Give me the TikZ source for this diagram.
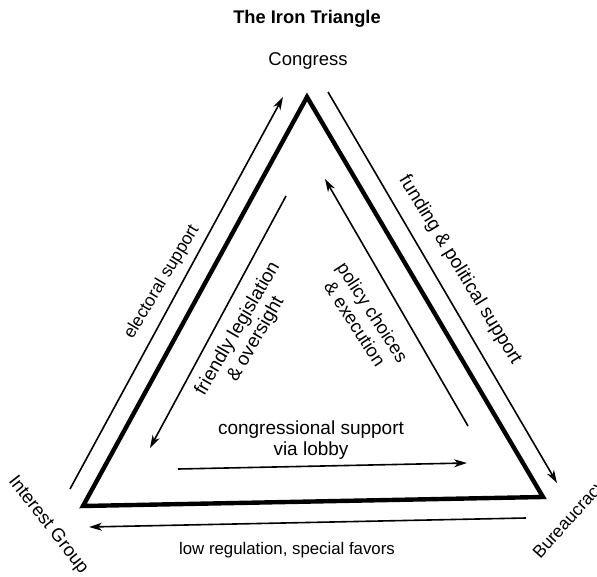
\documentclass[tikz,border=0pt]{standalone}
\usepackage{fontspec}
\setmainfont{Liberation Sans}
\usetikzlibrary{arrows.meta}
\begin{document}
\begin{tikzpicture}[x=1pt,y=-1pt,
  edge/.style={line width=4.4pt, line join=miter},
  flow/.style={line width=1.6pt, -{Stealth[length=13pt,width=8pt,inset=4pt]}},
  lbl/.style={align=center, inner sep=0pt},
  fs/.style={font=\fontsize{#1}{21}\selectfont}]
\useasboundingbox (0,0) rectangle (597,577);
\fill[white] (0,0) rectangle (597,577);
% triangle corners
\coordinate (C) at (307,97);
\coordinate (I) at (83,506);
\coordinate (B) at (543,497);
\draw[edge] (C) -- (B) -- (I) -- cycle;
% arrow end points
\coordinate (ea) at (70,489);  \coordinate (eb) at (283,97);
\coordinate (fa) at (328,92);  \coordinate (fb) at (557,483);
\coordinate (la) at (526,518); \coordinate (lb) at (89,527);
\coordinate (ga) at (286,196); \coordinate (gb) at (150,448);
\coordinate (pa) at (468,426); \coordinate (pb) at (325,179);
\coordinate (ca) at (178,469); \coordinate (cb) at (467,463);
\draw[flow] (ea) -- (eb);
\draw[flow] (fa) -- (fb);
\draw[flow] (la) -- (lb);
\draw[flow] (ga) -- (gb);
\draw[flow] (pa) -- (pb);
\draw[flow] (ca) -- (cb);
% labels
\node[lbl, font=\bfseries\fontsize{18.3}{22}\selectfont] (title) at (307,19) {The Iron Triangle};
\node[lbl, fs=18.5] (congress) at (308,61) {Congress};
\node[lbl, fs=17.5, rotate=59] (elec) at (162,282) {electoral support};
\node[lbl, fs=19, rotate=-58.5] (fund) at (460,270) {funding \& political support};
\node[lbl, fs=19, rotate=60] (friend) at (247,334) {friendly legislation\\\& oversight};
\node[lbl, fs=18.4, rotate=-57] (policy) at (364,318) {policy choices\\\& execution};
\node[lbl, fs=19] (lobby) at (311,440) {congressional support\\via lobby};
\node[lbl, fs=16.8] (lowreg) at (287,550) {low regulation, special favors};
\node[lbl, fs=18.5, rotate=-52] (ig) at (48,525) {Interest Group};
\node[lbl, fs=17.5, rotate=48] (bur) at (570,520) {Bureaucracy};
\end{tikzpicture}
\end{document}
